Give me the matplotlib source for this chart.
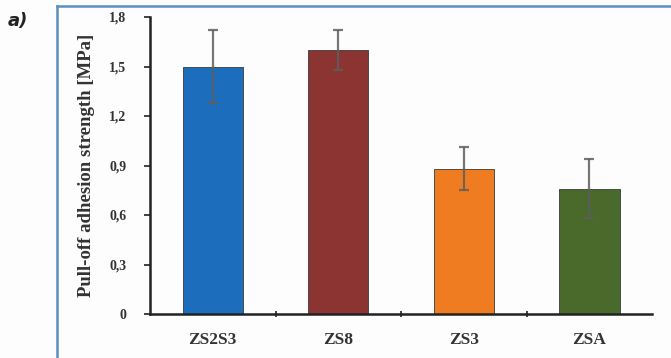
import numpy as np
import matplotlib.pyplot as plt
from matplotlib.lines import Line2D

# Pull-off adhesion strength of the four coatings
samples = ["ZS2S3", "ZS8", "ZS3", "ZSA"]
strength = [1.50, 1.60, 0.88, 0.76]
strength_err = [0.22, 0.12, 0.13, 0.18]
bar_colors = ["#1c6ebd", "#8c3432", "#ef7c20", "#4a6a2c"]
y_ticks = [0, 0.3, 0.6, 0.9, 1.2, 1.5, 1.8]
y_tick_labels = ["0", "0,3", "0,6", "0,9", "1,2", "1,5", "1,8"]

fig = plt.figure(figsize=(6.71, 3.58), dpi=100, facecolor="#fdfdfd")
ax = fig.add_axes([0.2235, 0.1229, 0.7485, 0.8296])
ax.set_facecolor("#fdfdfd")

x = np.arange(len(samples))
ax.bar(x, strength, width=0.48, color=bar_colors, edgecolor="#3a3a3a", linewidth=0.6, zorder=2)
ax.errorbar(x, strength, yerr=strength_err, fmt="none", ecolor="#5e5e5e",
            elinewidth=1.6, capsize=3.5, capthick=1.6, alpha=0.85, zorder=3)

ax.set_xlim(-0.5, 3.5)
ax.set_ylim(0, 1.8)
ax.set_yticks(y_ticks)
ax.set_yticklabels(y_tick_labels, fontfamily="Liberation Serif", fontweight="bold",
                   fontsize=10, color="#333333")
ax.set_xticks(x)
ax.set_xticklabels(samples, fontfamily="Liberation Serif", fontweight="bold",
                   fontsize=12.5, color="#333333")
ax.set_xticks([0.5, 1.5, 2.5], minor=True)
ax.tick_params(axis="x", which="major", length=0, pad=13)
ax.tick_params(axis="x", which="minor", length=4, direction="inout", width=1.2, color="#222222")
ax.tick_params(axis="y", length=4, width=1.2, direction="out", pad=13, color="#222222")

for side in ["top", "right"]:
    ax.spines[side].set_visible(False)
for side in ["left", "bottom"]:
    ax.spines[side].set_linewidth(1.8)
    ax.spines[side].set_color("#222222")

ax.set_ylabel("Pull-off adhesion strength [MPa]", fontfamily="Liberation Serif",
              fontweight="bold", fontsize=13.5, color="#333333", labelpad=10)

# panel frame and label
fig.add_artist(Line2D([0.085, 0.085], [0, 0.982], transform=fig.transFigure,
                      color="#5a90bb", linewidth=1.8))
fig.add_artist(Line2D([0.085, 1.0], [0.982, 0.982], transform=fig.transFigure,
                      color="#5a90bb", linewidth=1.8))
fig.text(0.012, 0.94, "a)", fontsize=13, fontweight="bold", fontstyle="italic",
         color="#222222", va="center")

fig.savefig("out.png", dpi=100, facecolor=fig.get_facecolor())
